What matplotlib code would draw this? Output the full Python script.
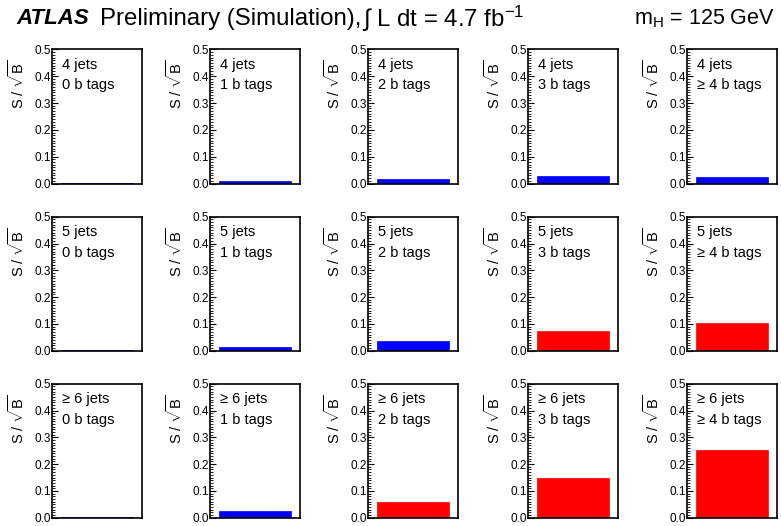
import numpy as np
import matplotlib.pyplot as plt
from matplotlib.ticker import MultipleLocator

plt.rcParams['font.family'] = ['Liberation Sans', 'DejaVu Sans']
plt.rcParams['mathtext.fontset'] = 'custom'
plt.rcParams['mathtext.rm'] = 'Liberation Sans'
plt.rcParams['mathtext.it'] = 'Liberation Sans:italic'

# S/sqrt(B) per jet multiplicity (rows) and b-tag multiplicity (columns)
jet_labels = ['4 jets', '5 jets', '\u2265 6 jets']
btag_labels = ['0 b tags', '1 b tags', '2 b tags', '3 b tags', '\u2265 4 b tags']
s_over_sqrtb_4j = [0.002, 0.008, 0.017, 0.029, 0.026]
s_over_sqrtb_5j = [0.003, 0.014, 0.036, 0.074, 0.104]
s_over_sqrtb_6j = [0.004, 0.024, 0.059, 0.149, 0.253]
# signal-rich regions drawn in red
is_signal_4j = [False, False, False, False, False]
is_signal_5j = [False, False, False, True, True]
is_signal_6j = [False, False, True, True, True]

values = [s_over_sqrtb_4j, s_over_sqrtb_5j, s_over_sqrtb_6j]
signal = [is_signal_4j, is_signal_5j, is_signal_6j]

fig = plt.figure(figsize=(7.81, 5.26), dpi=100)

lefts_px = [52, 210, 368, 528, 687]
bottoms_px = [183.5, 350.7, 517.7]
W, H = 781.0, 526.0
w_px, h_px = 90, 134

for r in range(3):
    for c in range(5):
        ax = fig.add_axes([lefts_px[c] / W, (H - bottoms_px[r]) / H, w_px / W, h_px / H])
        col = 'red' if signal[r][c] else 'blue'
        ax.bar([0.5], [values[r][c]], width=0.8, color=col, edgecolor=col, linewidth=0.5)
        ax.set_xlim(0, 1)
        ax.set_ylim(0, 0.5)
        ax.set_xticks([])
        ax.yaxis.set_major_locator(MultipleLocator(0.1))
        ax.yaxis.set_minor_locator(MultipleLocator(0.01))
        ax.set_yticks([0, 0.1, 0.2, 0.3, 0.4, 0.5])
        ax.set_yticklabels(['0.0', '0.1', '0.2', '0.3', '0.4', '0.5'])
        ax.tick_params(axis='y', which='major', direction='in', length=4, width=0.8,
                       labelsize=8.5, pad=1)
        ax.tick_params(axis='y', which='minor', direction='in', length=2, width=0.6)
        for s in ax.spines.values():
            s.set_linewidth(1.2)
        ax.text(0.11, 0.935, jet_labels[r], transform=ax.transAxes, fontsize=10.5,
                ha='left', va='top')
        ax.text(0.11, 0.785, btag_labels[c], transform=ax.transAxes, fontsize=10.5,
                ha='left', va='top')
        ax.text(-0.39, 0.92, r'S / $\sqrt{\mathrm{B}}$', transform=ax.transAxes,
                rotation=90, ha='center', va='top', fontsize=10.5)

ty = 1 - 19 / H
fig.text(16 / W, ty, 'ATLAS', fontsize=16, fontweight='bold', style='italic',
         ha='left', va='center')
fig.text(100 / W, ty, 'Preliminary (Simulation),', fontsize=17.3, ha='left', va='center')
fig.text(362 / W, ty, '\u222b L dt = 4.7 fb$^{-1}$', fontsize=17.3, ha='left', va='center')
fig.text(775 / W, ty, r'm$_{\mathrm{H}}$ = 125 GeV', fontsize=15.5,
         ha='right', va='center')

fig.savefig('out.png', dpi=100)
